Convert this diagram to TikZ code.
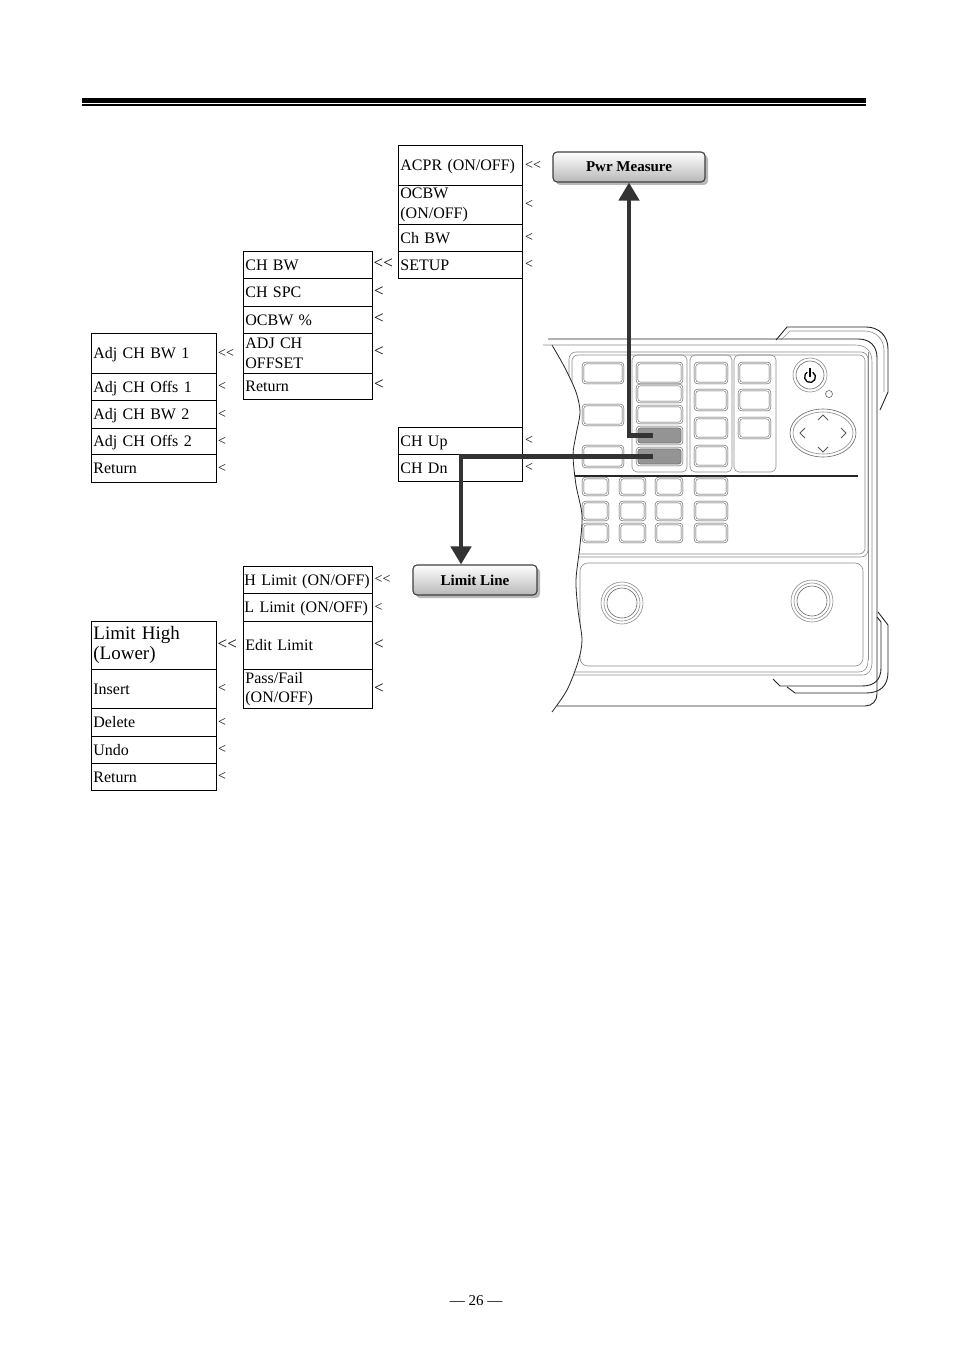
\documentclass[tikz,border=0pt]{standalone}
\usepackage{fontspec}
\setmainfont{Liberation Serif}
\usetikzlibrary{arrows.meta,shadows,calc}
\newcommand\fsA{\fontsize{16}{19.5}\selectfont}
\newcommand\fsS{\fontsize{14}{16}\selectfont}
\newcommand\fsC{\fontsize{17}{19}\selectfont}
\newcommand\fsL{\fontsize{19}{20}\selectfont}
\newcommand\dbl{<\kern0pt<}
\begin{document}
\begin{tikzpicture}[x=1pt,y=-1pt,
 item/.style={draw, line width=0.8pt, anchor=north west, inner xsep=2pt, inner ysep=0pt, align=left, font=\fsA},
 one/.style={text height=11pt, text depth=0pt},
 itemA/.style={item, text width=121pt},
 itemB/.style={item, text width=125pt},
 itemC/.style={item, text width=120pt},
 chev/.style={anchor=west, inner sep=0pt, font=\fsS},
 chevL/.style={anchor=west, inner sep=0pt, font=\fsC},
 btn/.style={draw=black!75, line width=1.1pt, rounded corners=4pt, top color=white, bottom color=black!28, drop shadow={shadow xshift=3pt, shadow yshift=-3pt, fill=black!55}, font=\fontsize{15}{17}\selectfont\bfseries, inner sep=0pt},
 conn/.style={draw=black!80, line width=4.5pt, line join=miter, -{Triangle[width=20pt,length=18pt]}},
 dev/.style={draw=black!45, line width=0.6pt},
 devd/.style={draw=black!85, line width=0.9pt},
 key/.style={draw=black!70, line width=0.5pt, double=white, double distance=1.2pt, rounded corners=3pt},
]
\useasboundingbox (0,0) rectangle (954,1351);
\fill[white] (0,0) rectangle (954,1351);

% top rule
\fill[black] (82,98.3) rectangle (866,102.7);
\fill[black] (82,104.4) rectangle (866,105.6);

% ---------- device ----------
\def\wavy{(552,345) (565,368) (576,392) (580,412) (576,435) (573,455) (576,485) (582,515) (580,545) (576,580) (578,610) (582,640) (578,662) (567,690) (552,712)}
\begin{scope}
\clip plot[smooth] coordinates {\wavy} -- (900,712) -- (900,320) -- cycle;
% panels
\draw[dev, rounded corners=7pt] (569,352) rectangle (868,557);
\draw[dev, rounded corners=6pt] (572,355) rectangle (865,554);
\draw[dev, rounded corners=8pt] (580,563) rectangle (863,666);
% groups
\draw[dev, rounded corners=5pt] (632,355) rectangle (687,472);
\draw[dev, rounded corners=5pt] (690,355) rectangle (732,472);
\draw[dev, rounded corners=5pt] (734,355) rectangle (776,472);
% dark divider
\draw[black!85, line width=1.5pt] (560,476) -- (858,476);
% keys
\foreach \a/\b/\c/\d in {583/363/623/383, 583/405/623/425, 583/446/623/467,
  637/363/682/383, 637/385/682/402, 637/406/682/423,
  695/363/727/383, 695/390/727/410, 695/418/727/438, 695/446/727/466,
  739/363/770/383, 739/390/770/410, 739/418/770/438}
  \draw[key] (\a,\b) rectangle (\c,\d);
\foreach \a/\c in {583/608, 620/645, 656/682, 695/727}
  \foreach \b/\d in {478/495, 502/520, 524/542}
    \draw[key] (\a,\b) rectangle (\c,\d);
% lower body lines
\draw[dev] (550,672) -- (858,672) .. controls (865,672) and (868,668) .. (868,660);
\draw[dev] (550,675) -- (862,675) .. controls (869,675) and (872,670) .. (872,662);
% knobs
\foreach \kx/\ky in {622/603, 812/601}{
  \draw[dev] (\kx,\ky) circle (21);
  \draw[dev] (\kx,\ky) circle (18);
  \draw[dev, draw=black!60] (\kx,\ky) circle (15);
}
\end{scope}
% highlighted keys
\node[key, fill=black!42, minimum width=45pt, minimum height=17pt, inner sep=0pt] (btnA) at (659.5,435.5) {};
\node[key, fill=black!42, minimum width=45pt, minimum height=17pt, inner sep=0pt] (btnB) at (659.5,456.5) {};
% power button
\draw[dev] (810,375) circle (17);
\draw[dev, draw=black!60] (810,375) circle (14);
\draw[black, line width=1.3pt] ([shift={(300:5.5)}]810,377) arc[start angle=300, end angle=600, radius=5.5];
\draw[black, line width=1.3pt] (810,368) -- (810,377);
\draw[dev, draw=black!60] (829,394) circle (3.5);
% nav pad
\draw[dev, draw=black!60] (823,433) ellipse [x radius=33, y radius=24];
\draw[dev] (823,433) ellipse [x radius=30, y radius=21];
\draw[dev, draw=black!65, line width=0.9pt] (818,420) -- (823,415) -- (828,420);
\draw[dev, draw=black!65, line width=0.9pt] (818,447) -- (823,452) -- (828,447);
\draw[dev, draw=black!65, line width=0.9pt] (805,428) -- (800,433) -- (805,438);
\draw[dev, draw=black!65, line width=0.9pt] (841,428) -- (846,433) -- (841,438);
% wavy cut edge
\draw[devd, line width=0.8pt] plot[smooth] coordinates {\wavy};
% body outline
\draw[devd] (548,339) -- (858,339) .. controls (870,339) and (877,346) .. (877,358) -- (877,694) .. controls (877,701) and (872,706) .. (865,706) -- (557,706);
\draw[dev] (543,345) -- (855,345) .. controls (866,345) and (872,351) .. (872,362) -- (872,662);
\draw[dev] (868,352) -- (868,660);
% top bracket
\draw[devd] (776,340) -- (787,327) -- (866,327) .. controls (879,327) and (888,336) .. (888,349) -- (888,392) -- (880,410);
\draw[dev] (781,340) -- (790,331) -- (864,331) .. controls (876,331) and (884,339) .. (884,351) -- (884,392);
% bottom bracket
\draw[devd] (878,612) -- (888,625) -- (888,672) .. controls (888,686) and (880,693) .. (866,693) -- (795,693) -- (787,687);
\draw[devd] (773,679) -- (780,686) -- (862,686) .. controls (874,686) and (881,680) .. (881,668) -- (881,622) -- (877,617);

% ---------- buttons ----------
\node[btn, minimum width=152pt, minimum height=30pt] (pwr) at (629,167) {Pwr Measure};
\node[btn, minimum width=124pt, minimum height=30pt] (lim) at (475,580) {Limit Line};

% ---------- menu C ----------
\node[itemC, one, minimum height=40pt] (acpr) at (398,145) {ACPR (ON/OFF)};
\node[itemC, minimum height=39pt] (ocbw) at (398,185) {OCBW\\(ON/OFF)};
\node[itemC, one, minimum height=27pt] (chbwC) at (398,224) {Ch BW};
\node[itemC, one, minimum height=27pt] (setup) at (398,251) {SETUP};
\node[itemC, one, minimum height=27pt] (chup) at (398,427) {CH Up};
\node[itemC, one, minimum height=27pt] (chdn) at (398,454) {CH Dn};
\draw[line width=0.8pt] (setup.south east) -- (chup.north east);
\node[chev] (cc1) at (525,165) {\dbl};
\node[chev] (cc2) at (525,204.5) {<};
\node[chev] (cc3) at (525,237.5) {<};
\node[chev] (cc4) at (525,264.5) {<};
\node[chev] (cc5) at (525,440.5) {<};
\node[chev] (cc6) at (525,467.5) {<};

% ---------- menu B ----------
\node[itemB, one, minimum height=27pt] (chbw) at (243,251) {CH BW};
\node[itemB, one, minimum height=28pt] (chspc) at (243,278) {CH SPC};
\node[itemB, one, minimum height=27pt] (ocbwp) at (243,306) {OCBW \%};
\node[itemB, minimum height=40pt] (adjch) at (243,333) {ADJ CH\\OFFSET};
\node[itemB, one, minimum height=26pt] (retB) at (243,373) {Return};
\node[chevL] (cb1) at (373.5,264) {\dbl};
\node[chevL] (cb2) at (374,292) {<};
\node[chevL] (cb3) at (374,319) {<};
\node[chevL] (cb4) at (374,352) {<};
\node[chevL] (cb5) at (374,385) {<};

% ---------- menu A ----------
\node[itemA, one, minimum height=40pt] (adjbw1) at (91,333) {Adj CH BW 1};
\node[itemA, one, minimum height=27pt] (adjoff1) at (91,373) {Adj CH Offs 1};
\node[itemA, one, minimum height=28pt] (adjbw2) at (91,400) {Adj CH BW 2};
\node[itemA, one, minimum height=26pt] (adjoff2) at (91,428) {Adj CH Offs 2};
\node[itemA, one, minimum height=28pt] (retA) at (91,454) {Return};
\node[chev] (ca1) at (218,353) {\dbl};
\node[chev] (ca2) at (218,386.5) {<};
\node[chev] (ca3) at (218,414) {<};
\node[chev] (ca4) at (218,441) {<};
\node[chev] (ca5) at (218,468) {<};

% ---------- menu D ----------
\node[itemB, one, minimum height=27pt, inner xsep=1pt, text width=127pt] (hlim) at (243,566) {\mbox{H Limit (ON/OFF)}};
\node[itemB, one, minimum height=28pt, inner xsep=1pt, text width=127pt] (llim) at (243,593) {\mbox{L Limit (ON/OFF)}};
\node[itemB, one, minimum height=48pt] (edit) at (243,621) {Edit Limit};
\node[itemB, minimum height=39pt] (pass) at (243,669) {Pass/Fail\\(ON/OFF)};
\node[chev] (cd1) at (374.5,579.5) {\dbl};
\node[chev] (cd2) at (374.5,607) {<};
\node[chevL] (cd3) at (374,645) {<};
\node[chevL] (cd4) at (374,688.5) {<};

% ---------- menu E ----------
\node[itemA, minimum height=48pt, font=\fsL] (lhigh) at (91,621) {Limit High\\(Lower)};
\node[itemA, one, minimum height=39pt] (insert) at (91,669) {Insert};
\node[itemA, one, minimum height=28pt] (delete) at (91,708) {Delete};
\node[itemA, one, minimum height=27pt] (undo) at (91,736) {Undo};
\node[itemA, one, minimum height=27pt] (retE) at (91,763) {Return};
\node[chevL] (ce1) at (217.5,645) {\dbl};
\node[chev] (ce2) at (218,688.5) {<};
\node[chev] (ce3) at (218,722) {<};
\node[chev] (ce4) at (218,749.5) {<};
\node[chev] (ce5) at (218,776.5) {<};

% ---------- connectors ----------
\draw[conn] ([xshift=-7pt]btnA.center) -| (pwr.south);
\draw[conn] ([xshift=-7pt]btnB.center) -| ([xshift=-14pt]lim.north);

% page number
\node[font=\fontsize{15}{17}\selectfont] (pg) at (476,1301) {— 26 —};
\end{tikzpicture}
\end{document}
